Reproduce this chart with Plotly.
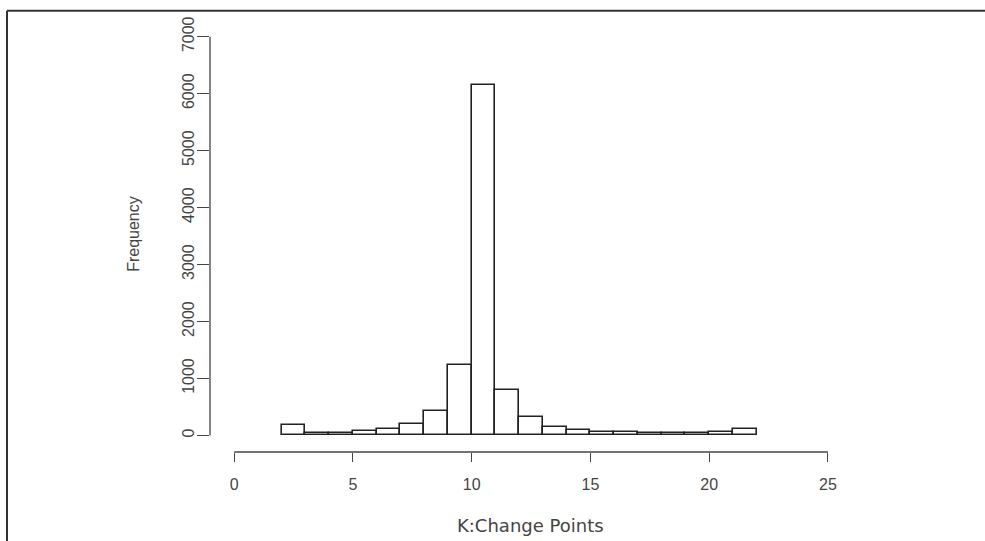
import plotly.graph_objects as go

# Histogram bins (left edges) and counts
bin_left = [2, 3, 4, 5, 6, 7, 8, 9, 10, 11, 12, 13, 14, 15, 16, 17, 18, 19, 20, 21]
counts = [188, 40, 35, 80, 110, 205, 430, 1230, 6150, 800, 320, 147, 95, 60, 55, 35, 35, 35, 60, 112]
x_ticks = [0, 5, 10, 15, 20, 25]
y_ticks = [0, 1000, 2000, 3000, 4000, 5000, 6000, 7000]
x_title = "K:Change Points"
y_title = "Frequency"

centers = [b + 0.5 for b in bin_left]

W, H = 985, 541
L, R, T, B = 210, 845, 20, 452.3

fig = go.Figure()
fig.add_trace(go.Bar(
    x=centers, y=counts, width=1.0,
    marker=dict(color="white", line=dict(color="#222222", width=1.6)),
    hoverinfo="x+y", showlegend=False,
))

axis_col = "#444444"
txt_col = "#444444"
tick_font = dict(family="Liberation Sans, Arial, sans-serif", size=16, color=txt_col)

fig.update_layout(
    width=W, height=H, autosize=False,
    margin=dict(l=L, r=W - R, t=T, b=H - B, pad=0),
    paper_bgcolor="white", plot_bgcolor="white",
    bargap=0,
    xaxis=dict(
        range=[(L - 234.2) / 23.75, (R - 234.2) / 23.75],
        tickmode="array", tickvals=x_ticks, ticktext=[str(v) for v in x_ticks],
        ticks="outside", ticklen=9, tickwidth=1.3, tickcolor=axis_col,
        showline=False, showgrid=False, zeroline=False,
        tickfont=tick_font, ticklabelstandoff=9,
    ),
    yaxis=dict(
        range=[(435.7 - B) / 0.057, (435.7 - T) / 0.057],
        tickmode="array", tickvals=y_ticks, ticktext=[str(v) for v in y_ticks],
        ticks="outside", ticklen=12, tickwidth=1.3, tickcolor=axis_col,
        tickangle=-90,
        showline=False, showgrid=False, zeroline=False,
        tickfont=tick_font, ticklabelstandoff=-3,
    ),
    shapes=[
        # y axis line spanning the ticks
        dict(type="line", xref="paper", yref="y", x0=0, x1=0,
             y0=y_ticks[0], y1=y_ticks[-1], line=dict(color=axis_col, width=1.3)),
        # x axis line spanning the ticks
        dict(type="line", xref="x", yref="paper", x0=x_ticks[0], x1=x_ticks[-1],
             y0=0, y1=0, line=dict(color=axis_col, width=1.3)),
        # outer frame (top and left edges)
        dict(type="line", xref="paper", yref="paper",
             x0=(7 - L) / (R - L), x1=(W + 5 - L) / (R - L),
             y0=(B - 10.7) / (B - T), y1=(B - 10.7) / (B - T),
             line=dict(color="#333333", width=2)),
        dict(type="line", xref="paper", yref="paper",
             x0=(7 - L) / (R - L), x1=(7 - L) / (R - L),
             y0=(B - 10.7) / (B - T), y1=(B - H - 5) / (B - T),
             line=dict(color="#333333", width=2)),
    ],
    annotations=[
        dict(text=x_title, xref="paper", yref="paper",
             x=(530 - L) / (R - L), y=(B - 526) / (B - T),
             xanchor="center", yanchor="middle", showarrow=False,
             font=dict(family="DejaVu Sans, sans-serif", size=18, color=txt_col)),
        dict(text=y_title, xref="paper", yref="paper",
             x=(134 - L) / (R - L), y=(B - 234) / (B - T),
             xanchor="center", yanchor="middle", showarrow=False, textangle=-90,
             font=dict(family="Liberation Sans, Arial, sans-serif", size=16, color=txt_col)),
    ],
)

fig.write_html(
    "out.html",
    config={"displayModeBar": False},
    post_script="document.body.style.margin='0px';document.body.style.overflow='hidden';",
)
